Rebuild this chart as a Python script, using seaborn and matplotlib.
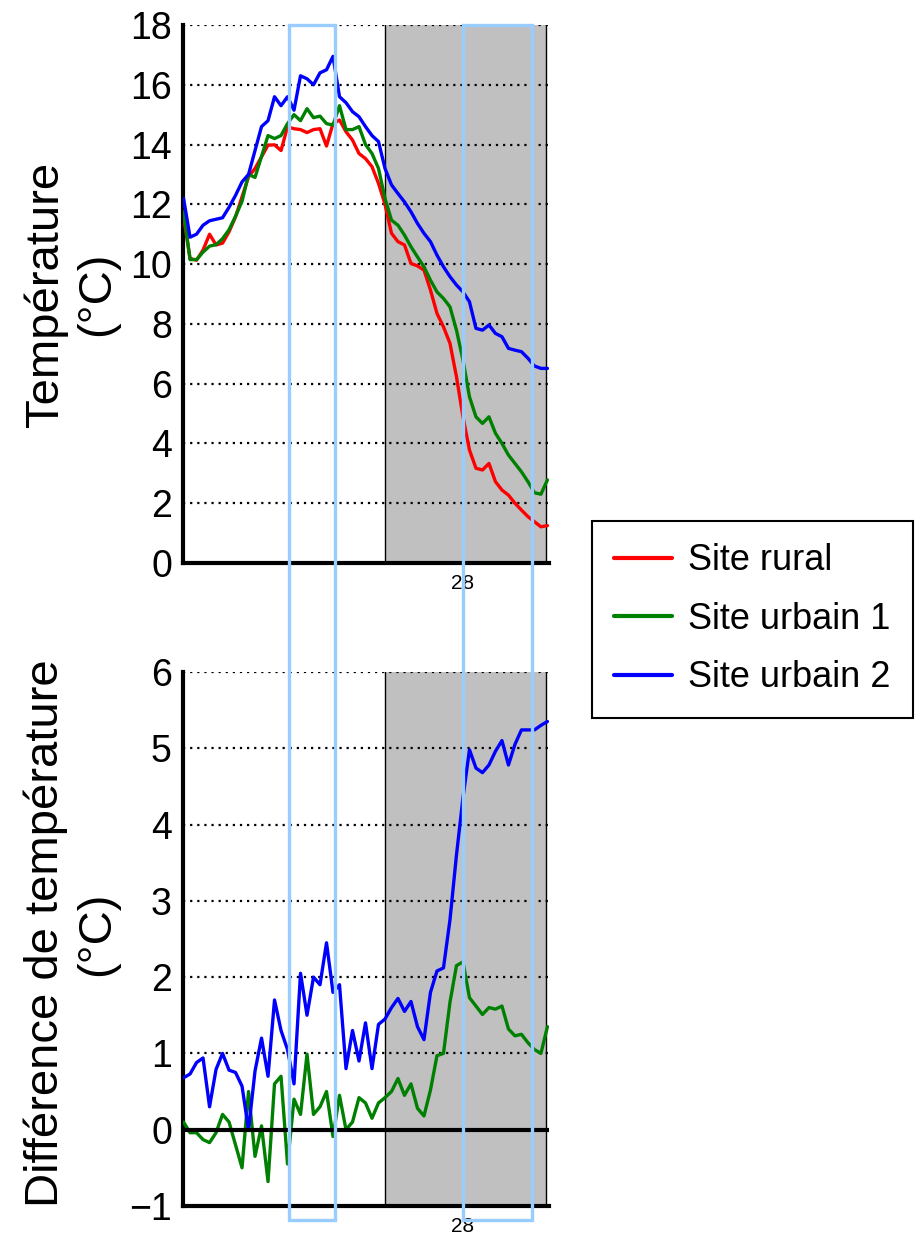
import numpy as np
import pandas as pd
import matplotlib
matplotlib.use("Agg")
import matplotlib.pyplot as plt
import matplotlib.transforms as mtransforms
from matplotlib.patches import Rectangle
from matplotlib.lines import Line2D
import seaborn as sns

# time in hours since 27th 00:00 (24 h = the "28" tick)
heures = np.arange(2.5, 31.0, 0.5)

temp_rural = [11.6, 10.19, 10.13, 10.47, 11.0, 10.64, 10.7, 11.08, 11.58, 12.25,
              12.92, 13.2, 13.59, 13.98, 13.99, 13.8, 14.59, 14.53, 14.5, 14.4,
              14.5, 14.53, 13.95, 14.7, 14.82, 14.43, 14.15, 13.7, 13.53, 13.26,
              12.7, 12.0, 11.03, 10.75, 10.64, 10.02, 9.94, 9.8, 9.13, 8.35,
              7.9, 7.35, 6.23, 4.89, 3.78, 3.17, 3.11, 3.33, 2.72, 2.44,
              2.27, 2.0, 1.77, 1.55, 1.38, 1.21, 1.25]
temp_urbain1 = [11.75, 10.15, 10.15, 10.4, 10.6, 10.65, 10.85, 11.15, 11.6, 12.1,
                13.0, 12.9, 13.6, 14.3, 14.2, 14.3, 14.7, 15.0, 14.8, 15.2,
                14.9, 14.95, 14.7, 14.65, 15.3, 14.5, 14.5, 14.6, 14.0, 13.7,
                13.2, 12.2, 11.47, 11.3, 10.97, 10.58, 10.24, 9.91, 9.46, 9.07,
                8.85, 8.57, 7.79, 6.79, 5.56, 4.89, 4.67, 4.89, 4.34, 4.0,
                3.61, 3.33, 3.05, 2.72, 2.35, 2.3, 2.78]
temp_urbain2 = [12.2, 10.9, 11.0, 11.3, 11.45, 11.5, 11.55, 11.9, 12.3, 12.75,
                13.0, 13.8, 14.6, 14.8, 15.6, 15.3, 15.6, 15.15, 16.3, 16.2,
                16.0, 16.4, 16.5, 16.95, 15.6, 15.4, 15.1, 14.93, 14.6, 14.3,
                14.1, 13.2, 12.65, 12.36, 12.08, 11.75, 11.36, 11.03, 10.75, 10.3,
                9.91, 9.58, 9.3, 9.07, 8.74, 7.85, 7.79, 7.96, 7.68, 7.57,
                7.18, 7.12, 7.07, 6.85, 6.59, 6.51, 6.51]

diff_urbain1 = [0.1, -0.04, -0.04, -0.13, -0.17, -0.04, 0.2, 0.1, -0.2, -0.5,
                0.5, -0.35, 0.05, -0.68, 0.6, 0.7, -0.45, 0.4, 0.2, 0.99,
                0.2, 0.3, 0.5, -0.09, 0.45, 0.0, 0.1, 0.42, 0.35, 0.15,
                0.35, 0.42, 0.5, 0.67, 0.45, 0.6, 0.28, 0.18, 0.52, 0.97,
                1.0, 1.67, 2.15, 2.2, 1.73, 1.62, 1.51, 1.6, 1.58, 1.62,
                1.32, 1.23, 1.25, 1.14, 1.05, 1.0, 1.35]
diff_urbain2 = [0.68, 0.73, 0.88, 0.94, 0.3, 0.79, 1.0, 0.78, 0.75, 0.57,
                0.0, 0.77, 1.2, 0.7, 1.7, 1.3, 1.05, 0.6, 2.05, 1.5,
                2.0, 1.9, 2.45, 1.8, 1.9, 0.8, 1.3, 0.9, 1.4, 0.8,
                1.38, 1.45, 1.6, 1.72, 1.55, 1.68, 1.35, 1.18, 1.8, 2.08,
                2.12, 2.75, 3.6, 4.35, 4.98, 4.74, 4.68, 4.78, 4.96, 5.1,
                4.78, 5.05, 5.24, 5.24, 5.24, 5.3, 5.35]

sites = ["Site rural", "Site urbain 1", "Site urbain 2"]
couleurs = {"Site rural": "#ff0000", "Site urbain 1": "#008000", "Site urbain 2": "#0000ff"}

df_temp = pd.concat([
    pd.DataFrame({"heure": heures, "valeur": v, "site": s})
    for s, v in zip(sites, [temp_rural, temp_urbain1, temp_urbain2])
])
df_diff = pd.concat([
    pd.DataFrame({"heure": heures, "valeur": v, "site": s})
    for s, v in zip(sites[1:], [diff_urbain1, diff_urbain2])
])

sns.set_style("white")
plt.rcParams["font.family"] = ["Liberation Sans", "DejaVu Sans"]
plt.rcParams["text.color"] = "black"
plt.rcParams["axes.labelcolor"] = "black"
plt.rcParams["xtick.color"] = "black"
plt.rcParams["ytick.color"] = "black"

fig = plt.figure(figsize=(9.23, 12.37), dpi=100)
ax1 = fig.add_axes([0.1983, 0.5449, 0.3965, 0.4349])
ax2 = fig.add_axes([0.1983, 0.0251, 0.3965, 0.4317])

xmin, xmax = 2.46, 30.62
nuit_debut, nuit_fin = 18.0, 30.38

for ax, df, (ylo, yhi), ticks in [
    (ax1, df_temp, (0, 18), np.arange(0, 19, 2)),
    (ax2, df_diff, (-1, 6), np.arange(-1, 7, 1)),
]:
    ax.axvspan(nuit_debut, nuit_fin, color="#c0c0c0", zorder=0, lw=0)
    ax.axvline(nuit_debut, color="black", lw=1.0, zorder=1)
    ax.axvline(nuit_fin, color="black", lw=1.0, zorder=1)
    sns.lineplot(data=df, x="heure", y="valeur", hue="site", palette=couleurs,
                 linewidth=2.4, legend=False, ax=ax, zorder=3)
    ax.set_xlim(xmin, xmax)
    ax.set_ylim(ylo, yhi)
    ax.set_yticks(ticks)
    ax.set_xticks([24])
    ax.set_xticklabels(["28"])
    ax.yaxis.grid(True, linestyle=(0, (1, 2.2)), color="black", lw=1.6, zorder=2)
    ax.xaxis.grid(False)
    ax.set_axisbelow(False)
    for sp in ["top", "right"]:
        ax.spines[sp].set_visible(False)
    for sp in ["left", "bottom"]:
        ax.spines[sp].set_linewidth(3)
        ax.spines[sp].set_color("black")
    ax.tick_params(axis="y", labelsize=27, length=0, pad=8)
    ax.tick_params(axis="x", labelsize=15, length=4, direction="in", pad=8)
    ax.set_xlabel("")

ax2.axhline(0, color="black", lw=3, zorder=4)

ax1.set_ylabel("Température\n(°C)", fontsize=34, ha="center", va="center", linespacing=1.2)
ax1.yaxis.set_label_coords(-0.306, 0.5)
ax2.set_ylabel("Différence de température\n(°C)", fontsize=34, ha="center", va="center", linespacing=1.2)
ax2.yaxis.set_label_coords(-0.306, 0.51)

# highlight boxes spanning both panels
trans = mtransforms.blended_transform_factory(ax1.transData, fig.transFigure)
for x0, x1 in [(10.62, 14.15), (24.0, 29.31)]:
    fig.add_artist(Rectangle((x0, 0.0137), x1 - x0, 0.9798 - 0.0137, transform=trans,
                             fill=False, edgecolor="#99ccff", lw=2.4, zorder=10))

handles = [Line2D([], [], color=couleurs[s], lw=3) for s in sites]
leg = fig.legend(handles, sites, loc="upper left", bbox_to_anchor=(0.6414, 0.5788),
                 fontsize=26, frameon=True, fancybox=False, framealpha=1,
                 edgecolor="black", handlelength=1.6,
                 handletextpad=0.45, borderpad=0.62, labelspacing=0.65,
                 borderaxespad=0)
leg.get_frame().set_linewidth(1.5)

fig.savefig("out.png", dpi=100, facecolor="white")
